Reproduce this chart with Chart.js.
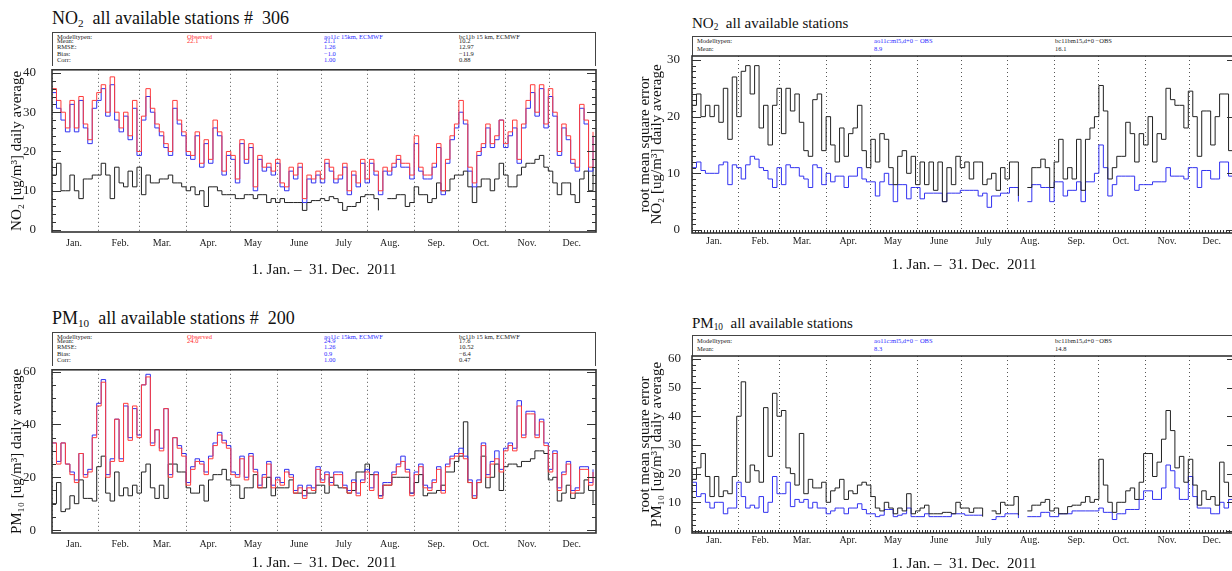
<!DOCTYPE html>
<html>
<head>
<meta charset="utf-8">
<script src="https://cdn.jsdelivr.net/npm/chart.js@4.4.1/dist/chart.umd.min.js"></script>
<style>
  body { margin: 0; width: 1232px; height: 571px; overflow: hidden; background: #fff; position: relative;
         font-family: "Liberation Serif", serif; color: #222; }
  .title { position: absolute; white-space: nowrap; line-height: 18px; color: #111; }
  .title sub { font-size: 62%; line-height: 0; vertical-align: -0.25em; }
  .box { position: absolute; border: 1.5px solid #444; border-bottom: none; box-sizing: border-box; }
  .t { position: absolute; font-size: 6.5px; line-height: 1; white-space: nowrap; }
  .r { color: #ff2a2a; }
  .b { color: #2b2bff; }
</style>
</head>
<body>

<!-- NO2 mean panel -->
<div class="title" style="left:52px;top:9px;font-size:18px">NO<sub>2</sub>&nbsp; all available stations #&nbsp; 306</div>
<div class="box" style="left:52px;top:32px;width:544px;height:34px"></div>
<div class="t" style="left:57px;top:33.5px">Modelltypen:</div>
<div class="t" style="left:57px;top:38px">Mean:</div>
<div class="t" style="left:57px;top:44px">RMSE:</div>
<div class="t" style="left:57px;top:50.5px">Bias:</div>
<div class="t" style="left:57px;top:57px">Corr:</div>
<div class="t r" style="left:187px;top:33.5px">Observed</div>
<div class="t r" style="left:187px;top:38px">22.1</div>
<div class="t b" style="left:324px;top:33.5px">ao11c 15km, ECMWF</div>
<div class="t b" style="left:324px;top:38px">21.1</div>
<div class="t b" style="left:324px;top:44px">1.26</div>
<div class="t b" style="left:324px;top:50.5px">−1.0</div>
<div class="t b" style="left:324px;top:57px">1.00</div>
<div class="t" style="left:459px;top:33.5px">bc11b 15 km, ECMWF</div>
<div class="t" style="left:459px;top:38px">10.2</div>
<div class="t" style="left:459px;top:44px">12.97</div>
<div class="t" style="left:459px;top:50.5px">−11.9</div>
<div class="t" style="left:459px;top:57px">0.88</div>

<!-- NO2 rmse panel -->
<div class="title" style="left:692px;top:14px;font-size:15px">NO<sub>2</sub>&nbsp; all available stations</div>
<div class="box" style="left:692px;top:36px;width:544px;height:20px"></div>
<div class="t" style="left:697px;top:37.5px">Modelltypen:</div>
<div class="t" style="left:697px;top:45.5px">Mean:</div>
<div class="t b" style="left:874px;top:37.5px">ao11c:ml5,d+0 − OBS</div>
<div class="t b" style="left:874px;top:45.5px">8.9</div>
<div class="t" style="left:1055px;top:37.5px">bc11bm15,d+0 −OBS</div>
<div class="t" style="left:1055px;top:45.5px">16.1</div>

<!-- PM10 mean panel -->
<div class="title" style="left:52px;top:309px;font-size:18px">PM<sub>10</sub>&nbsp; all available stations #&nbsp; 200</div>
<div class="box" style="left:52px;top:332px;width:544px;height:34px"></div>
<div class="t" style="left:57px;top:333.5px">Modelltypen:</div>
<div class="t" style="left:57px;top:338px">Mean:</div>
<div class="t" style="left:57px;top:344px">RMSE:</div>
<div class="t" style="left:57px;top:350.5px">Bias:</div>
<div class="t" style="left:57px;top:357px">Corr:</div>
<div class="t r" style="left:187px;top:333.5px">Observed</div>
<div class="t r" style="left:187px;top:338px">24.0</div>
<div class="t b" style="left:324px;top:333.5px">ao11c 15km, ECMWF</div>
<div class="t b" style="left:324px;top:338px">24.9</div>
<div class="t b" style="left:324px;top:344px">1.26</div>
<div class="t b" style="left:324px;top:350.5px">0.9</div>
<div class="t b" style="left:324px;top:357px">1.00</div>
<div class="t" style="left:459px;top:333.5px">bc11b 15 km, ECMWF</div>
<div class="t" style="left:459px;top:338px">17.6</div>
<div class="t" style="left:459px;top:344px">10.52</div>
<div class="t" style="left:459px;top:350.5px">−6.4</div>
<div class="t" style="left:459px;top:357px">0.47</div>

<!-- PM10 rmse panel -->
<div class="title" style="left:692px;top:314px;font-size:15px">PM<sub>10</sub>&nbsp; all available stations</div>
<div class="box" style="left:692px;top:335px;width:544px;height:21px"></div>
<div class="t" style="left:697px;top:337.5px">Modelltypen:</div>
<div class="t" style="left:697px;top:345.5px">Mean:</div>
<div class="t b" style="left:874px;top:337.5px">ao11c:ml5,d+0 − OBS</div>
<div class="t b" style="left:874px;top:345.5px">8.3</div>
<div class="t" style="left:1055px;top:337.5px">bc11bm15,d+0 −OBS</div>
<div class="t" style="left:1055px;top:345.5px">14.8</div>

<script>
// one value every STEP days
const STEP = 3;
const monthStarts = [0, 31, 59, 90, 120, 151, 181, 212, 243, 273, 304, 334];
const monthLabels = ['Jan.', 'Feb.', 'Mar.', 'Apr.', 'May', 'June', 'July', 'Aug.', 'Sep.', 'Oct.', 'Nov.', 'Dec.'];
const periodLabel = '1. Jan. –  31. Dec.  2011';

const no2Ticks = [0, 10, 20, 30, 40];
const no2RmseTicks = [0, 10, 20, 30];
const pmTicks = [0, 20, 40, 60];
const pmRmseTicks = [0, 10, 20, 30, 40, 50, 60];

// NO2 daily mean
const no2Obs = [36,33,30,26,33,26,34,27,23,33, 35,37,30,39,30,26,30,24,33,20,
  29,36,31,27,25,22,20,33,28,25, 20,19,25,17,23,18,28,25,15,20,
  19,13,23,18,22,11,19,16,17,15, 18,12,11,16,14,17,8,14,13,15,
  13,18,16,13,14,17,10,15,12,18, 13,18,15,10,16,15,17,19,17,17,
  14,24,16,14,14,17,22,10,18,24, 27,33,28,16,12,20,22,27,22,24,
  28,22,25,28,18,27,33,37,30,37, 27,36,30,20,27,24,18,16,32,28, 16,25];
const no2Ao = [35,31,28,25,32,25,33,26,22,31, 33,36,29,37,28,25,29,23,31,19,
  28,34,30,26,24,21,19,31,27,24, 19,18,24,16,22,17,26,24,14,19,
  18,12,22,17,21,10,18,15,16,14, 17,11,10,15,13,16,7,13,12,14,
  12,17,15,12,13,16,9,14,11,17, 12,17,14,9,15,14,16,18,16,16,
  13,22,15,13,13,16,21,9,17,23, 26,30,27,15,11,19,21,26,21,23,
  28,21,24,26,17,26,31,35,29,36, 26,34,29,19,26,23,17,15,31,27, 15,24];
const no2Bc = [14,17,10,10,14,10,8,13,13,14, 14,17,14,8,16,12,11,15,11,16,
  9,14,12,12,13,13,14,12,12,11, 10,11,9,10,6,11,11,10,9,9,
  9,8,8,9,9,8,9,9,7,8, 7,8,7,7,7,7,5,7,7.5,7.5,
  8,7.5,8.5,8,7,5,6,6,7,8.5, 9,9,8,5,null,8,8,9,9,6,
  7,11,9,9,7,8,12,10,10,13, 14,14,15,11,7,11,13,13,10,13,
  17,14,11,11,14,16,17,17,18,19, 16,15,12,9,12,12,9,7,13,15, 10,16];

// NO2 root mean square error
const no2RmseAo = [11,12,10.5,10,10,10,11.5,12,8,11.5, 11,9,11.5,13,12.5,11,10.5,9,7.5,11,
  8,11.5,11,11,9.5,9,7.5,11.5,11,8, 10,8.5,9.5,9.5,7.5,9.5,9.5,11,9,8.5,
  8.5,6,8.5,10,8,5,8,8,5.5,7.5, 7.5,5.5,6.5,6.5,6.5,6.5,5,6.5,6.5,6.5,
  7,7,7,7,6,6.5,4,6,6,6.5, 6.5,7.5,7.5,5,null,5,8,8,7.5,7.5,
  5,8.5,8.5,6,7,7,8.5,5,8.5,8.5, 10,15,11,6,8,9.5,9.5,9.5,9.5,7,
  8,8,8,8.5,8.5,8.5,11,9.5,9.5,9.5, 9,11,11,7.5,10.5,10.5,9,9,12,12, 9.5,9.5];
const no2RmseBc = [22,24,20,22,20,22,19,25,16,27, 20,28,29,24,29,18,22,15,22,25,
  17,25,21,24,19,14,13,23,24,14, 20,15,12,18,13,17,18,22,14,11,
  16,12,17,16,11,8,13,14,10,13, 8,12,8,12,7,12,5,11,8,13,
  11,12,9,12,12,8,9,10,7,11, 9,12,12,6,null,7.5,11,11,12.5,11,
  7.5,12,16,9,11,9,16,7,16,18, 20,25.5,21,9,11,13,13,19,17,12,
  17,15,20,12,17,16,25,23,22,22, 18,24.5,20,13,21,21,15,20,24,24, 14,20];

// PM10 daily mean
const pmObs = [33,25,33,25,21,18,29,20,22,35, 47,56,20,26,42,26,48,34,47,35,
  55,58,32,38,30,46,20,35,31,28, 17,23,26,25,21,27,32,36,33,31,
  21,20,27,19,28,22,16,20,25,16, 19,17,22,20,14,16,12,16,15,23,
  18,21,17,21,21,16,14,18,13,18, 22,15,21,12,17,17,21,24,26,22,
  13,21,24,16,15,18,23,14,24,27, 28,29,27,18,12,18,32,20,25,27,
  22,30,32,30,47,35,44,44,35,41, 32,22,29,15,21,25,14,15,23,23, 17,22];
const pmAo = [33,26,33,25,22,19,29,21,23,36, 48,57,21,27,42,27,47,35,46,36,
  55,59,33,38,31,46,21,35,32,29, 18,24,27,26,22,28,33,37,34,32,
  22,21,28,20,29,23,17,21,26,17, 20,18,23,21,15,17,13,17,16,24,
  19,22,18,22,22,17,15,19,14,19, 23,16,22,13,18,18,22,25,28,23,
  14,22,25,17,16,19,24,15,25,28, 29,31,28,19,13,19,33,21,26,30,
  23,31,33,31,49,36,45,45,36,42, 33,23,30,16,22,26,15,16,24,24, 18,23];
const pmBc = [10,18,7,8,13,10,19,12,12,11, 24,28,14,11,22,13,16,13,17,14,
  22,25,16,12,17,12,25,25,22,22, 16,14,14,17,11,19,21,21,23,19,
  17,17,12,16,16,21,16,16,20,13, 16,16,16,19,14,14,15,14,14,17,
  17,14,20,17,16,16,14,15,22,22, 25,21,21,13,17,17,20,20,20,20,
  14,18,21,13,14,14,15,17,22,22, 26,28,41,18,12,18,28,16,20,25,
  15,24,25,25,24,26,26,27,30,30, 29,19,20,11,14,17,12,14,14,19, 15,10];

// PM10 root mean square error
const pmRmseAo = [17,12,13,10,8,10,10,6,8,8, 17,12,8,9,8,12,6.5,10,19,13,
  13,17,8.5,11,10,11,8,10,8,8, 6,7,8,8,6,8,8,9.5,7.5,6,
  6,5,5.5,7.5,7.5,5,5.5,6,8,5, 5,5,6,5,5,5,5,5,6,6,
  6,5.5,5.5,5.5,5.5,5.5,null,4,5,5, 6,6,6,4.5,null,5,5,5,6.5,6.5,
  5,5,6,6,6,7,7,7,7,7, 7,8,6.5,6.5,4,6,6,7.5,7.5,7.5,
  11,14,14,11,11,15,23,21,15,11, 11,19,12,8,8,8,6,6,10,8, 11,11];
const pmRmseBc = [18,22,27,19,12,19,12,14,13,19, 40,52,17,23,21,17,43,26,48,40,
  42,22,20,16,34,13,18,15,15,17, 10,14,15,18,11,14,13,16,17,16,
  12,8,7,10,8,6,8,7,13,6, 7,8,9,6,6,6,6.5,6.5,6,10,
  8,8,6.5,8,8,5,null,7,6,10, 9,9,12,5.5,null,7,9,9,10,11,
  7,8,6,6,8.5,9,9,10,12,10, 11,25,16,10,6.5,10,10,14,15,11,
  17,27,27,19,24,32,42,35,22,26, 17,25,16,9,14,11,12,9,24,17, 12,12];

const RED = '#ff3c3c', BLUE = '#3232f0', BLACK = '#222';
Chart.defaults.font.family = '"Liberation Serif", serif';

// frame + inward ticks, ROOT style
const framePlugin = {
  id: 'frame',
  afterDatasetsDraw(chart, args, opts) {
    const { ctx, chartArea: a, scales: { x, y } } = chart;
    ctx.save();
    ctx.strokeStyle = '#333';
    ctx.lineWidth = 1;
    ctx.beginPath();
    const k0 = Math.ceil(y.min / opts.yMinor), k1 = Math.floor(y.max / opts.yMinor);
    for (let k = k0; k <= k1; k++) {
      const v = k * opts.yMinor;
      const py = Math.round(y.getPixelForValue(v)) + 0.5;
      const len = (v % opts.yMajor === 0) ? 9 : 4;
      ctx.moveTo(a.left, py); ctx.lineTo(a.left + len, py);
      ctx.moveTo(a.right, py); ctx.lineTo(a.right - len, py);
    }
    if (opts.xMinor) {
      for (let d = 0; d <= 365; d += opts.xMinor) {
        const px = Math.round(x.getPixelForValue(d)) + 0.5;
        ctx.moveTo(px, a.bottom); ctx.lineTo(px, a.bottom - 3);
      }
    }
    ctx.stroke();
    ctx.lineWidth = 1.6;
    ctx.strokeRect(a.left, a.top, a.right - a.left, a.bottom - a.top);
    ctx.restore();
  }
};

function makeChart(p) {
  const W = p.axisW + (p.R - p.L) + p.padR;
  const H = p.padT + (p.B - p.T) + p.xAxisH;
  const cv = document.createElement('canvas');
  cv.width = W; cv.height = H;
  cv.style.cssText = `position:absolute;left:${p.L - p.axisW}px;top:${p.T - p.padT}px;width:${W}px;height:${H}px`;
  document.body.appendChild(cv);
  return new Chart(cv, {
    type: 'line',
    data: {
      datasets: p.series.map(s => ({
        data: s.values.map((v, i) => ({ x: i * STEP, y: v })),
        borderColor: s.color, borderWidth: 1, pointRadius: 0, stepped: true, fill: false, spanGaps: false,
      })),
    },
    options: {
      responsive: false, animation: false, events: [],
      layout: { padding: { top: p.padT, right: p.padR, left: 0, bottom: 0 } },
      plugins: {
        legend: { display: false }, tooltip: { enabled: false },
        frame: { yMinor: p.yMinor, yMajor: p.yMajor, xMinor: p.xMinor },
      },
      scales: {
        x: {
          type: 'linear', min: 0, max: 365,
          afterBuildTicks: (s) => { s.ticks = monthStarts.map(v => ({ value: v })); },
          afterFit: (s) => { s.height = p.xAxisH; },
          grid: { color: '#555', lineWidth: 1, drawTicks: false },
          border: { display: false, dash: [1, 3] },
          ticks: { autoSkip: false, maxRotation: 0, padding: p.xPad, labelOffset: 22, color: '#222',
                   font: { size: 10 }, callback: (v, i) => monthLabels[i] },
          title: { display: true, text: periodLabel, color: '#111', font: { size: 15 }, padding: { top: 0, bottom: 0 } },
        },
        y: {
          min: p.yMin, max: p.yMax,
          afterBuildTicks: (s) => { s.ticks = p.yTicks.map(v => ({ value: v })); },
          afterFit: (s) => { s.width = p.axisW; },
          grid: { display: false },
          border: { display: false },
          ticks: { padding: p.yPad, color: '#222', font: { size: 13 } },
          title: { display: true, text: p.yTitle, color: '#111',
                   font: { size: 15, lineHeight: p.titleLH }, padding: { top: p.titlePad, bottom: 0 } },
        },
      },
    },
    plugins: [framePlugin],
  });
}

makeChart({ L: 52, R: 596, T: 66, B: 232, axisW: 52, padT: 12, padR: 12, xAxisH: 47, xPad: 5, yPad: 8,
  yMin: -0.5, yMax: 40.8, yTicks: no2Ticks, yMinor: 2, yMajor: 10, xMinor: 0, titleLH: 1.2, titlePad: 8,
  yTitle: 'NO₂ [ug/m³] daily average',
  series: [{ values: no2Obs, color: RED }, { values: no2Ao, color: BLUE }, { values: no2Bc, color: BLACK }] });

makeChart({ L: 692, R: 1236, T: 56, B: 233, axisW: 56, padT: 12, padR: 12, xAxisH: 41, xPad: 2, yPad: 4,
  yMin: -0.53, yMax: 30.7, yTicks: no2RmseTicks, yMinor: 1, yMajor: 10, xMinor: 2, titleLH: 0.8, titlePad: 3,
  yTitle: ['root mean square error', 'NO₂ [ug/m³] daily average'],
  series: [{ values: no2RmseBc, color: BLACK }, { values: no2RmseAo, color: BLUE }] });

makeChart({ L: 52, R: 596, T: 366, B: 533, axisW: 52, padT: 12, padR: 12, xAxisH: 39, xPad: 5, yPad: 8,
  yMin: -1.1, yMax: 60.7, yTicks: pmTicks, yMinor: 5, yMajor: 20, xMinor: 0, titleLH: 1.2, titlePad: 8,
  yTitle: 'PM₁₀ [ug/m³] daily average',
  series: [{ values: pmObs, color: RED }, { values: pmAo, color: BLUE }, { values: pmBc, color: BLACK }] });

makeChart({ L: 692, R: 1236, T: 356, B: 533, axisW: 56, padT: 12, padR: 12, xAxisH: 40, xPad: 1, yPad: 3,
  yMin: -0.7, yMax: 61, yTicks: pmRmseTicks, yMinor: 2, yMajor: 10, xMinor: 2, titleLH: 0.8, titlePad: 3,
  yTitle: ['root mean square error', 'PM₁₀ [ug/m³] daily average'],
  series: [{ values: pmRmseBc, color: BLACK }, { values: pmRmseAo, color: BLUE }] });
</script>
</body>
</html>
